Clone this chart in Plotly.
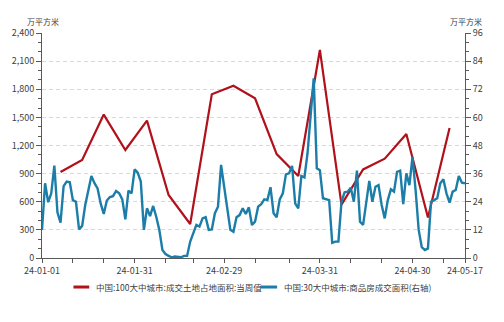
import pandas as pd
import plotly.graph_objects as go

# 中国:100大中城市:成交土地占地面积:当周值 (万平方米), weekly, left axis
land_start = "2024-01-07"
land_area = [917, 1045, 1530, 1152, 1465, 672, 363, 1746, 1838, 1703,
             1109, 875, 2219, 570, 945, 1060, 1323, 432, 1387]

# 中国:30大中城市:商品房成交面积 (万平方米), daily, right axis
sales_start = "2024-01-01"
sales_area = [
    12.0, 31.9, 23.8, 27.6, 39.4, 19.5, 15.1, 30.7, 32.6, 32.3,
    24.7, 24.0, 12.2, 13.7, 22.6, 29.0, 35.0, 31.9, 29.7, 23.3,
    18.8, 24.5, 26.0, 26.4, 28.6, 27.6, 25.0, 16.5, 28.7, 27.6,
    37.8, 36.4, 32.6, 12.0, 21.2, 17.9, 22.2, 17.6, 12.0, 3.4,
    1.7, 0.9, 0.3, 0.6, 0.6, 0.3, 0.9, 0.9, 7.0, 10.5,
    14.1, 13.4, 16.9, 17.4, 12.0, 12.2, 19.1, 21.9, 39.7, 30.4,
    20.5, 12.0, 11.2, 17.4, 18.3, 21.2, 18.8, 21.6, 14.1, 15.5,
    21.9, 23.0, 25.0, 24.7, 30.2, 19.1, 17.4, 25.0, 27.6, 35.7,
    36.1, 39.3, 23.3, 21.2, 35.0, 34.4, 44.7, 61.7, 76.7, 38.3,
    37.5, 25.5, 25.2, 24.7, 6.5, 7.0, 7.0, 24.0, 28.0, 28.3,
    30.0, 24.0, 37.3, 15.5, 14.1, 24.7, 32.9, 24.0, 30.4, 31.1,
    22.6, 16.9, 24.7, 29.3, 28.3, 36.8, 37.3, 23.0, 36.1, 31.1,
    43.2, 29.0, 12.0, 4.6, 3.4, 4.1, 24.0, 24.7, 25.5, 31.9,
    33.6, 27.6, 23.6, 28.3, 29.0, 35.0, 32.1, 31.9,
]

# x-axis ticks (labels only on some of them)
x_tick_dates = ["2024-01-01", "2024-01-11", "2024-01-21", "2024-01-31",
                "2024-02-10", "2024-02-19", "2024-02-29", "2024-03-10",
                "2024-03-21", "2024-03-31", "2024-04-10", "2024-04-20",
                "2024-04-30", "2024-05-10", "2024-05-17"]
x_tick_text = ["24-01-01", "", "", "24-01-31", "", "", "24-02-29", "",
               "", "24-03-31", "", "", "24-04-30", "", "24-05-17"]

left_ticks = [0, 300, 600, 900, 1200, 1500, 1800, 2100, 2400]
left_tick_text = ["0", "300", "600", "900", "1,200", "1,500", "1,800", "2,100", "2,400"]
right_ticks = [0, 12, 24, 36, 48, 60, 72, 84, 96]

land_name = "中国:100大中城市:成交土地占地面积:当周值"
sales_name = "中国:30大中城市:商品房成交面积(右轴)"
unit = "万平方米"

RED = "#B0111B"
BLUE = "#1B7DA8"
AXIS = "#595959"
TEXT = "#404040"
FONT = "Noto Sans CJK SC"

land_dates = pd.date_range(land_start, periods=len(land_area), freq="7D")
sales_dates = pd.date_range(sales_start, periods=len(sales_area), freq="D")

fig = go.Figure()
fig.add_trace(go.Scatter(x=land_dates, y=land_area, name=land_name,
                         mode="lines", line=dict(color=RED, width=2.2),
                         yaxis="y", showlegend=False))
fig.add_trace(go.Scatter(x=sales_dates, y=sales_area, name=sales_name,
                         mode="lines", line=dict(color=BLUE, width=2.4),
                         yaxis="y2", showlegend=False))

fig.update_layout(
    width=504, height=322,
    margin=dict(l=35, r=39, t=33, b=64),
    paper_bgcolor="white", plot_bgcolor="white",
    font=dict(family=FONT, size=9, color=TEXT),
    xaxis=dict(
        type="date", range=[sales_dates[0], sales_dates[-1]],
        tickvals=x_tick_dates, ticktext=x_tick_text, tickangle=0,
        showgrid=False, zeroline=False,
        showline=True, linecolor=AXIS, linewidth=1,
        ticks="outside", ticklen=4, tickcolor=AXIS,
        tickfont=dict(size=9, color=TEXT),
    ),
    yaxis=dict(
        range=[0, 2400], tickvals=left_ticks, ticktext=left_tick_text,
        showgrid=True, gridcolor="#d9d9d9", griddash="4px,3px", gridwidth=1,
        zeroline=False, showline=True, linecolor=AXIS, linewidth=1,
        ticks="outside", ticklen=5, tickcolor=AXIS,
        minor=dict(ticks="outside", dtick=100, ticklen=3, tickcolor=AXIS,
                   showgrid=False),
        tickfont=dict(size=9, color=TEXT),
    ),
    yaxis2=dict(
        range=[0, 96], tickvals=right_ticks, overlaying="y", side="right",
        showgrid=False, zeroline=False,
        showline=True, linecolor=AXIS, linewidth=1,
        ticks="outside", ticklen=5, tickcolor=AXIS,
        minor=dict(ticks="outside", dtick=4, ticklen=3, tickcolor=AXIS,
                   showgrid=False),
        tickfont=dict(size=9, color=TEXT),
    ),
)

# axis unit titles
for ux in (0.003, 1.003):
    fig.add_annotation(text=unit, xref="paper", yref="paper", x=ux, y=1.053,
                       xanchor="center", yanchor="middle", showarrow=False,
                       font=dict(size=8, color=TEXT, family=FONT))

# legend drawn below the plot
legend_y = -0.129
legend_items = [
    (RED, 0.0744, 0.1116, 0.1233, land_name),
    (BLUE, 0.5163, 0.5558, 0.5674, sales_name),
]
for color, x0, x1, xt, label in legend_items:
    fig.add_shape(type="line", xref="paper", yref="paper",
                  x0=x0, x1=x1, y0=legend_y, y1=legend_y,
                  line=dict(color=color, width=3))
    fig.add_annotation(text=label, xref="paper", yref="paper", x=xt, y=legend_y,
                       xanchor="left", yanchor="middle", showarrow=False,
                       font=dict(size=8.5, color=TEXT, family=FONT))

fig.write_html("out.html")
